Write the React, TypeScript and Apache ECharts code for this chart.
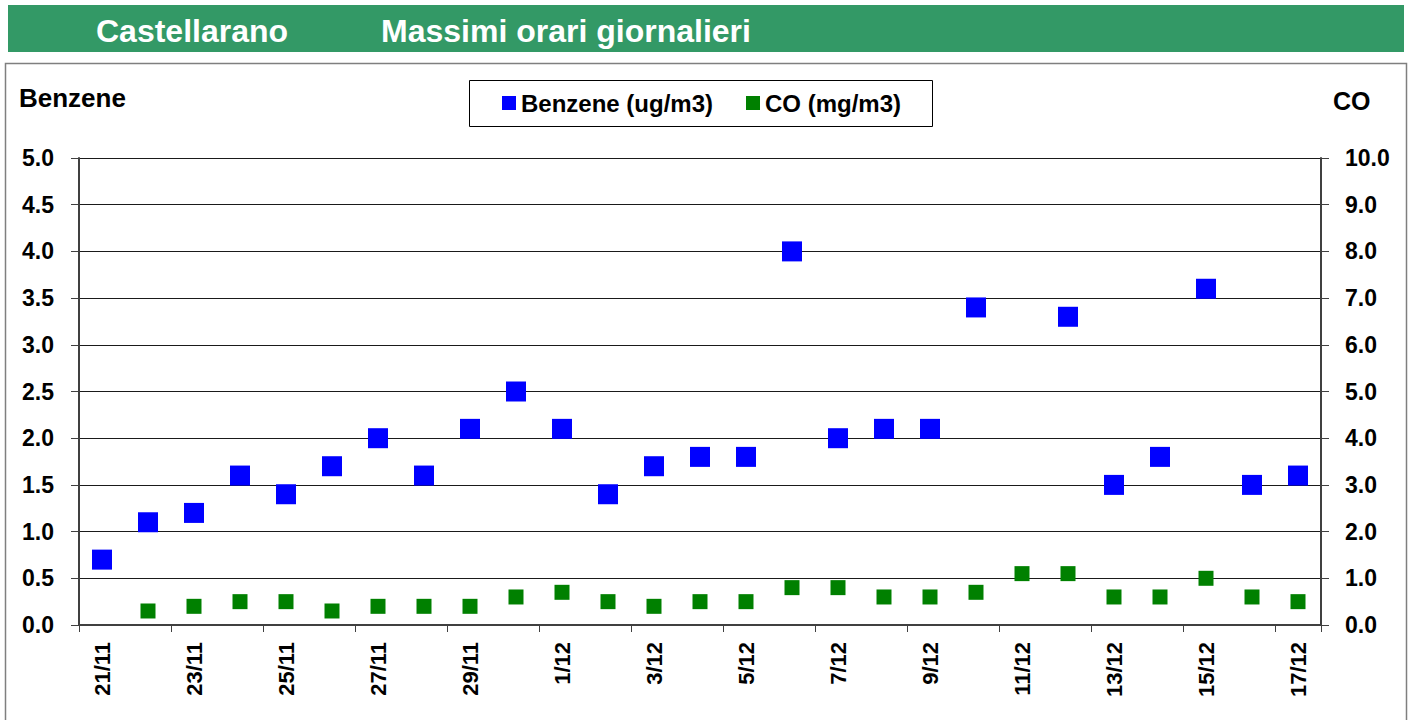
import React, { useEffect, useRef } from "react";
import * as echarts from "echarts";

const categories = [
  "21/11", "22/11", "23/11", "24/11", "25/11", "26/11", "27/11", "28/11", "29/11", "30/11",
  "1/12", "2/12", "3/12", "4/12", "5/12", "6/12", "7/12", "8/12", "9/12", "10/12",
  "11/12", "12/12", "13/12", "14/12", "15/12", "16/12", "17/12",
];

const benzene: (number | null)[] = [
  0.7, 1.1, 1.2, 1.6, 1.4, 1.7, 2.0, 1.6, 2.1, 2.5,
  2.1, 1.4, 1.7, 1.8, 1.8, 4.0, 2.0, 2.1, 2.1, 3.4,
  null, 3.3, 1.5, 1.8, 3.6, 1.5, 1.6,
];

const co: (number | null)[] = [
  null, 0.3, 0.4, 0.5, 0.5, 0.3, 0.4, 0.4, 0.4, 0.6,
  0.7, 0.5, 0.4, 0.5, 0.5, 0.8, 0.8, 0.6, 0.6, 0.7,
  1.1, 1.1, 0.6, 0.6, 1.0, 0.6, 0.5,
];

const titleLeft = "Castellarano";
const titleRight = "Massimi orari giornalieri";
const leftAxisName = "Benzene";
const rightAxisName = "CO";
const seriesNames = ["Benzene (ug/m3)", "CO (mg/m3)"];

const FONT = "'Liberation Sans', Arial, Helvetica, sans-serif";

export default function App() {
  const ref = useRef<HTMLDivElement>(null);

  useEffect(() => {
    if (!ref.current) return;
    const chart = echarts.init(ref.current, null, { renderer: "svg" });
    chart.setOption({
      animation: false,
      backgroundColor: "#ffffff",
      textStyle: { fontFamily: FONT },
      graphic: [
        {
          type: "rect",
          shape: { x: 8, y: 5, width: 1396, height: 47 },
          style: { fill: "#339966" },
          z: 0,
        },
        {
          type: "text",
          x: 96,
          y: 31,
          style: {
            text: titleLeft,
            fill: "#ffffff",
            font: `bold 32px ${FONT}`,
            textVerticalAlign: "middle",
          },
        },
        {
          type: "text",
          x: 381,
          y: 31,
          style: {
            text: titleRight,
            fill: "#ffffff",
            font: `bold 32px ${FONT}`,
            textVerticalAlign: "middle",
          },
        },
        {
          type: "rect",
          shape: { x: 5.5, y: 63.5, width: 1401, height: 670 },
          style: { fill: "none", stroke: "#7f7f7f", lineWidth: 1.5 },
        },
        {
          type: "rect",
          shape: { x: 469.5, y: 80.5, width: 463, height: 46 },
          style: { fill: "none", stroke: "#000000", lineWidth: 1 },
        },
        {
          type: "text",
          x: 19,
          y: 98,
          style: {
            text: leftAxisName,
            fill: "#000000",
            font: `bold 26px ${FONT}`,
            textVerticalAlign: "middle",
          },
        },
        {
          type: "text",
          x: 1333,
          y: 101,
          style: {
            text: rightAxisName,
            fill: "#000000",
            font: `bold 25px ${FONT}`,
            textVerticalAlign: "middle",
          },
        },
      ],
      legend: {
        left: 502,
        top: 91,
        itemWidth: 14,
        itemHeight: 14,
        itemGap: 33,
        icon: "rect",
        padding: 0,
        textStyle: {
          fontFamily: FONT,
          fontWeight: "bold",
          fontSize: 24,
          color: "#000000",
          lineHeight: 24,
        },
        data: seriesNames,
      },
      grid: { left: 79, right: 91, top: 158, bottom: 95, containLabel: false },
      xAxis: {
        type: "category",
        data: categories,
        boundaryGap: true,
        axisLine: { show: true, lineStyle: { color: "#404040", width: 2 } },
        axisTick: {
          show: true,
          interval: 1,
          alignWithLabel: false,
          length: 7,
          lineStyle: { color: "#404040", width: 1 },
        },
        axisLabel: {
          interval: 1,
          rotate: 90,
          margin: 17,
          fontFamily: FONT,
          fontWeight: "bold",
          fontSize: 22,
          color: "#000000",
        },
        splitLine: { show: false },
      },
      yAxis: [
        {
          type: "value",
          min: 0,
          max: 5,
          interval: 0.5,
          position: "left",
          axisLine: { show: true, lineStyle: { color: "#404040", width: 2 } },
          axisTick: { show: true, length: 8, lineStyle: { color: "#404040" } },
          axisLabel: {
            formatter: (v: number) => v.toFixed(1),
            margin: 25,
            fontFamily: FONT,
            fontWeight: "bold",
            fontSize: 23,
            color: "#000000",
          },
          splitLine: { show: true, lineStyle: { color: "#1a1a1a", width: 1 } },
        },
        {
          type: "value",
          min: 0,
          max: 10,
          interval: 1,
          position: "right",
          axisLine: { show: true, lineStyle: { color: "#404040", width: 2 } },
          axisTick: { show: true, length: 8, lineStyle: { color: "#404040" } },
          axisLabel: {
            formatter: (v: number) => v.toFixed(1),
            margin: 24,
            fontFamily: FONT,
            fontWeight: "bold",
            fontSize: 23,
            color: "#000000",
          },
          splitLine: { show: false },
        },
      ],
      series: [
        {
          name: seriesNames[0],
          type: "scatter",
          xAxisIndex: 0,
          yAxisIndex: 0,
          symbol: "rect",
          symbolSize: 20,
          itemStyle: { color: "#0000ff", opacity: 1 },
          data: benzene.map((v) => (v === null ? "-" : v)),
          z: 3,
        },
        {
          name: seriesNames[1],
          type: "scatter",
          xAxisIndex: 0,
          yAxisIndex: 1,
          symbol: "rect",
          symbolSize: 15,
          itemStyle: { color: "#008000", opacity: 1 },
          data: co.map((v) => (v === null ? "-" : v)),
          z: 3,
        },
      ],
    });
    return () => chart.dispose();
  }, []);

  return (
    <div
      ref={ref}
      style={{ position: "absolute", left: 0, top: 0, width: 1412, height: 720 }}
    />
  );
}
